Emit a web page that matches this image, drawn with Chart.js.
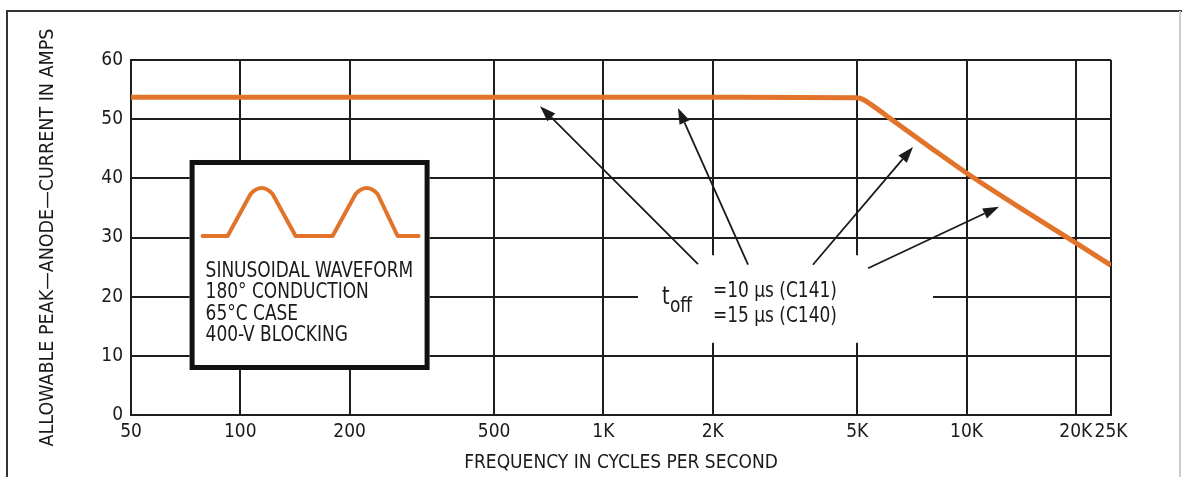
<!DOCTYPE html>
<html>
<head>
<meta charset="utf-8">
<script src="https://cdn.jsdelivr.net/npm/chart.js@4/dist/chart.umd.min.js"></script>
<style>
  html, body { margin: 0; padding: 0; background: #fff; }
  canvas { display: block; }
</style>
</head>
<body>
<canvas id="ratingChart" width="1182" height="477"></canvas>
<script>
// values
const freqHz = [50, 100, 200, 500, 1000, 2000, 5000, 5200, 5450, 6300, 8000, 10000, 15000, 20000, 25000];
const peakAmps = [53.7, 53.7, 53.7, 53.7, 53.7, 53.7, 53.6, 53.3, 52.5, 49.7, 45.1, 40.9, 33.9, 29.1, 25.3];

const xTicks = [50, 100, 200, 500, 1000, 2000, 5000, 10000, 20000, 25000];
const xTickLabels = ['50', '100', '200', '500', '1K', '2K', '5K', '10K', '20K', '25K'];

const boxLines = ['SINUSOIDAL WAVEFORM', '180\u00B0 CONDUCTION', '65\u00B0C CASE', '400-V BLOCKING'];
const toffLines = ['=10 \u00B5s (C141)', '=15 \u00B5s (C140)'];

// annotation anchors in data space: [tailHz, tailA, headHz, headA]
const noteArrows = [
    [1822, 25.5, 669, 52.2],
    [2502, 25.4, 1605, 51.9],
    [3776, 25.4, 7124, 45.3],
    [5356, 24.8, 12290, 35.2]
];

const FONT = '"Liberation Sans Narrow", "DejaVu Sans Condensed", "Arial Narrow", sans-serif';
const INK = '#1a1a1a';
const ORANGE = '#E2732B';
const SQUEEZE = 0.9;

// draw text narrowed horizontally, anchored at its left baseline point
function narrowText(ctx, text, x, y) {
    ctx.save();
    ctx.translate(x, y);
    ctx.scale(SQUEEZE, 1);
    ctx.fillText(text, 0, 0);
    ctx.restore();
}

const chartDecor = {
    id: 'chartDecor',
    beforeDraw(chart) {
        const ctx = chart.ctx;
        ctx.save();
        ctx.fillStyle = '#fff';
        ctx.fillRect(0, 0, chart.width, chart.height);
        // page frame
        ctx.strokeStyle = '#333';
        ctx.lineWidth = 2;
        ctx.beginPath();
        ctx.moveTo(7, chart.height);
        ctx.lineTo(7, 11);
        ctx.lineTo(chart.width, 11);
        ctx.stroke();
        ctx.strokeStyle = '#ccc';
        ctx.beginPath();
        ctx.moveTo(chart.width - 2, 11);
        ctx.lineTo(chart.width - 2, chart.height);
        ctx.stroke();
        ctx.restore();
    },
    beforeDatasetsDraw(chart) {
        const ctx = chart.ctx;
        const x = chart.scales.x, y = chart.scales.y;
        ctx.save();

        // white patch behind the t_off note
        const mx0 = x.getPixelForValue(1245), mx1 = x.getPixelForValue(8090);
        const my0 = y.getPixelForValue(27.0), my1 = y.getPixelForValue(12.2);
        ctx.fillStyle = '#fff';
        ctx.fillRect(mx0, my0, mx1 - mx0, my1 - my0);

        // conditions box
        const bx = x.getPixelForValue(72.5), by = y.getPixelForValue(43.1);
        const bw = 240, bh = 210;
        ctx.fillStyle = '#fff';
        ctx.fillRect(bx, by, bw, bh);
        ctx.strokeStyle = '#111';
        ctx.lineWidth = 5;
        ctx.strokeRect(bx + 2.5, by + 2.5, bw - 5, bh - 5);

        // waveform sketch
        ctx.strokeStyle = ORANGE;
        ctx.lineWidth = 4;
        ctx.lineJoin = 'round';
        ctx.lineCap = 'round';
        ctx.beginPath();
        ctx.moveTo(bx + 13, by + 76);
        ctx.lineTo(bx + 38, by + 76);
        ctx.lineTo(bx + 61, by + 34);
        ctx.quadraticCurveTo(bx + 72, by + 22, bx + 83, by + 34);
        ctx.lineTo(bx + 106, by + 76);
        ctx.lineTo(bx + 143, by + 76);
        ctx.lineTo(bx + 166, by + 34);
        ctx.quadraticCurveTo(bx + 177, by + 22, bx + 188, by + 34);
        ctx.lineTo(bx + 208, by + 76);
        ctx.lineTo(bx + 229, by + 76);
        ctx.stroke();

        ctx.fillStyle = INK;
        ctx.font = '21px ' + FONT;
        ctx.textAlign = 'left';
        ctx.textBaseline = 'alphabetic';
        boxLines.forEach((line, i) => {
            narrowText(ctx, line, bx + 16, by + 117 + i * 21.5);
        });
        ctx.restore();
    },
    afterDatasetsDraw(chart) {
        const ctx = chart.ctx;
        const x = chart.scales.x, y = chart.scales.y;
        ctx.save();

        // arrows
        ctx.strokeStyle = INK;
        ctx.fillStyle = INK;
        ctx.lineWidth = 1.8;
        noteArrows.forEach(a => {
            const x0 = x.getPixelForValue(a[0]), y0 = y.getPixelForValue(a[1]);
            const x1 = x.getPixelForValue(a[2]), y1 = y.getPixelForValue(a[3]);
            const ang = Math.atan2(y1 - y0, x1 - x0);
            const len = 16, half = 5.5;
            const bxp = x1 - len * Math.cos(ang), byp = y1 - len * Math.sin(ang);
            ctx.beginPath();
            ctx.moveTo(x0, y0);
            ctx.lineTo(bxp, byp);
            ctx.stroke();
            ctx.beginPath();
            ctx.moveTo(x1, y1);
            ctx.lineTo(bxp + half * Math.sin(ang), byp - half * Math.cos(ang));
            ctx.lineTo(bxp - half * Math.sin(ang), byp + half * Math.cos(ang));
            ctx.closePath();
            ctx.fill();
        });

        // t_off note
        const nx = x.getPixelForValue(1245), ny = y.getPixelForValue(27.0);
        ctx.textAlign = 'left';
        ctx.textBaseline = 'alphabetic';
        ctx.font = '24px ' + FONT;
        narrowText(ctx, 't', nx + 24, ny + 49);
        ctx.font = '21px ' + FONT;
        narrowText(ctx, 'off', nx + 32, ny + 57);
        toffLines.forEach((line, i) => {
            narrowText(ctx, line, nx + 75, ny + 42 + i * 25);
        });
        ctx.restore();
    }
};

const ctx = document.getElementById('ratingChart');

new Chart(ctx, {
    type: 'line',
    data: {
        labels: freqHz,
        datasets: [{
            data: freqHz.map((f, i) => ({ x: f, y: peakAmps[i] })),
            borderColor: ORANGE,
            borderWidth: 5,
            pointRadius: 0,
            cubicInterpolationMode: 'monotone',
            fill: false
        }]
    },
    options: {
        responsive: false,
        animation: false,
        layout: {
            padding: { left: 8, top: 60, right: 71, bottom: 0 }
        },
        plugins: {
            legend: { display: false },
            tooltip: { enabled: false }
        },
        scales: {
            x: {
                type: 'logarithmic',
                min: 50,
                max: 25000,
                afterBuildTicks: function (scale) {
                    scale.ticks = xTicks.map(v => ({ value: v }));
                },
                afterFit: function (scale) {
                    scale.height = 62;
                },
                ticks: {
                    autoSkip: false,
                    maxRotation: 0,
                    padding: 6,
                    color: INK,
                    font: { family: FONT, size: 19 },
                    callback: function (value, index) {
                        return xTickLabels[index];
                    }
                },
                grid: { color: '#1e1e1e', lineWidth: 2, drawTicks: false },
                border: { color: '#1e1e1e', width: 2 },
                title: {
                    display: true,
                    text: 'FREQUENCY IN CYCLES PER SECOND',
                    color: INK,
                    font: { family: FONT, size: 19 },
                    padding: { top: 0, bottom: 3 }
                }
            },
            y: {
                min: 0,
                max: 60,
                afterFit: function (scale) {
                    scale.width = 123;
                },
                ticks: {
                    stepSize: 10,
                    padding: 8,
                    color: INK,
                    font: { family: FONT, size: 19 }
                },
                grid: { color: '#1e1e1e', lineWidth: 2, drawTicks: false },
                border: { color: '#1e1e1e', width: 2 },
                title: {
                    display: true,
                    text: 'ALLOWABLE PEAK\u2014ANODE\u2014CURRENT IN AMPS',
                    color: INK,
                    font: { family: FONT, size: 19.5 },
                    padding: { top: 28, bottom: 0 }
                }
            }
        }
    },
    plugins: [chartDecor]
});
</script>
</body>
</html>
